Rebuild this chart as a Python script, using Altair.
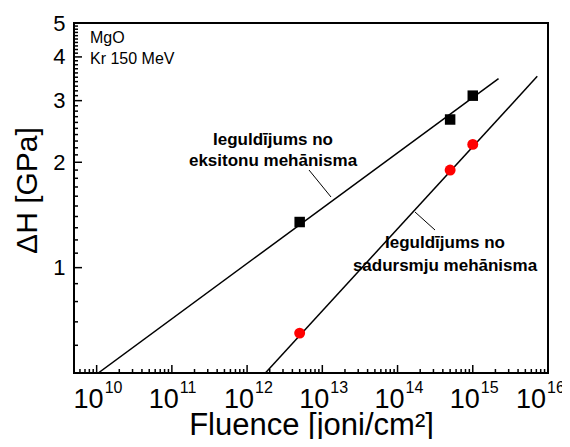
import altair as alt
import pandas as pd

# ---- data ----
fluence = [5e12, 5e14, 1e15]
dh_exciton = [1.35, 2.65, 3.1]
dh_collision = [0.65, 1.9, 2.25]

exciton_fit_x = [1.05e10, 2.2e15]
exciton_fit_y = [0.5, 3.47]
collision_fit_x = [1.75e12, 7.2e15]
collision_fit_y = [0.5, 3.52]

x_major = [1e10, 1e11, 1e12, 1e13, 1e14, 1e15, 1e16]
x_exp = ["10", "11", "12", "13", "14", "15", "16"]
x_minor = [m * 10.0 ** e for e in range(9, 16) for m in range(2, 10) if 5e9 <= m * 10.0 ** e <= 1e16]
y_major = [1, 2, 3, 4, 5]
y_minor = [0.6, 0.7, 0.8, 0.9] + [round(a + b / 10, 1) for a in (1, 2, 3, 4) for b in range(1, 10)]
y_bottom = 0.5

FONT = "Liberation Sans"
W, H = 474, 350
TICK_COLOR = "black"

xs = alt.Scale(type="log", domain=[5e9, 1e16], nice=False)
ys = alt.Scale(type="log", domain=[y_bottom, 5], nice=False)

fit_exc = pd.DataFrame({"x": exciton_fit_x, "y": exciton_fit_y})
fit_col = pd.DataFrame({"x": collision_fit_x, "y": collision_fit_y})
exc = pd.DataFrame({"x": fluence, "y": dh_exciton})
col = pd.DataFrame({"x": fluence, "y": dh_collision})

xaxis = alt.Axis(values=x_major, labels=False, ticks=False, domain=False, grid=False,
                 title="Fluence [joni/cm²]", titleFont=FONT, titleFontSize=31,
                 titleFontWeight="normal", titleColor="black", titlePadding=37)
yaxis = alt.Axis(values=y_major, format="d", ticks=False, domain=False, grid=False,
                 labelFont=FONT, labelFontSize=22, labelColor="black", labelPadding=9,
                 title="ΔH [GPa]", titleFont=FONT, titleFontSize=30, titleY=167,
                 titleFontWeight="normal", titleColor="black", titlePadding=10)

line_exc = alt.Chart(fit_exc).mark_line(color="black", strokeWidth=1.5, clip=True).encode(
    x=alt.X("x:Q", scale=xs, axis=xaxis), y=alt.Y("y:Q", scale=ys, axis=yaxis))
line_col = alt.Chart(fit_col).mark_line(color="black", strokeWidth=1.5, clip=True).encode(
    x=alt.X("x:Q", scale=xs), y=alt.Y("y:Q", scale=ys))

sq = alt.Chart(exc).mark_square(color="black", opacity=1, size=110).encode(
    x=alt.X("x:Q", scale=xs), y=alt.Y("y:Q", scale=ys))
ci = alt.Chart(col).mark_circle(color="#ff0000", opacity=1, size=120).encode(
    x=alt.X("x:Q", scale=xs), y=alt.Y("y:Q", scale=ys))

# inward ticks
def xticks(vals, L):
    df = pd.DataFrame({"v": vals, "b": [y_bottom] * len(vals)})
    return alt.Chart(df).mark_rule(color=TICK_COLOR, strokeWidth=1.5).encode(
        x=alt.X("v:Q", scale=xs), y=alt.Y("b:Q", scale=ys), y2=alt.value(H - L))

def yticks(vals, L):
    return alt.Chart(pd.DataFrame({"w": vals})).mark_rule(color=TICK_COLOR, strokeWidth=1.5).encode(
        y=alt.Y("w:Q", scale=ys), x=alt.value(0), x2=alt.value(L))

# x tick labels: 10 with superscript exponent
def xlabels(vals, exps, shift):
    df = pd.DataFrame({"v": vals, "e": exps, "t": ["10"] * len(vals)})
    base = alt.Chart(df).mark_text(font=FONT, fontSize=27, align="right",
                                   baseline="alphabetic", dx=7 + shift, color="black").encode(
        x=alt.X("v:Q", scale=xs), y=alt.value(H + 35), text="t:N")
    sup = alt.Chart(df).mark_text(font=FONT, fontSize=16, align="left",
                                  baseline="alphabetic", dx=8 + shift, color="black").encode(
        x=alt.X("v:Q", scale=xs), y=alt.value(H + 20), text="e:N")
    return [base, sup]

# annotations
def txt(s, x, y, size, bold=False, align="center"):
    return alt.Chart(pd.DataFrame({"t": [s]})).mark_text(
        font=FONT, fontSize=size, fontWeight="bold" if bold else "normal",
        align=align, baseline="alphabetic", color="black").encode(
        text="t:N", x=alt.value(x), y=alt.value(y))

def leader(x1, y1, x2, y2):
    return alt.Chart(pd.DataFrame({"a": [0]})).mark_rule(color="black", strokeWidth=1).encode(
        x=alt.value(x1), y=alt.value(y1), x2=alt.value(x2), y2=alt.value(y2))

layers = ([line_exc, line_col, sq, ci,
           xticks(x_major, 8), xticks(x_minor, 4), yticks(y_major, 8), yticks(y_minor, 4)]
          + xlabels(x_major[:-1], x_exp[:-1], 0) + xlabels(x_major[-1:], x_exp[-1:], -9)
          + [txt("MgO", 16, 20, 16, align="left"), txt("Kr 150 MeV", 16, 41, 16, align="left"),
             txt("Ieguldījums no", 199, 122, 17, True), txt("eksitonu mehānisma", 199, 143, 17, True),
             leader(235, 147, 257, 174),
             txt("Ieguldījums no", 371, 225, 17, True), txt("sadursmju mehānisma", 371, 248, 17, True),
             leader(341, 189, 361, 207)])

chart = alt.layer(*layers).properties(
    width=W, height=H,
    autosize=alt.AutoSizeParams(type="none"),
    padding={"left": 66, "top": 15, "right": 14, "bottom": 66},
    background="white",
).configure_view(stroke="black", strokeWidth=2)

chart.save("out.html", embed_options={"renderer": "svg", "actions": False})
